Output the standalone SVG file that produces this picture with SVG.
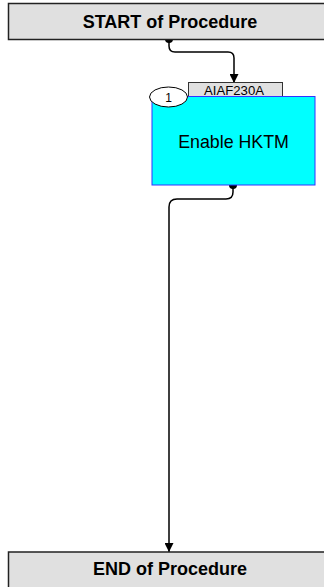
<svg xmlns="http://www.w3.org/2000/svg" width="324" height="587" viewBox="0 0 324 587">
<defs>
<style>
.term{fill:#e0e0e0;stroke:#222;stroke-width:1.5}
.termtxt{font-family:"Liberation Sans",Arial,sans-serif;font-weight:bold;font-size:18px;fill:#000;text-anchor:middle}
.conn{fill:none;stroke:#000;stroke-width:1.5}
.dot{fill:#000}
.lbl{fill:#e0e0e0;stroke:#333;stroke-width:1}
.txt{font-family:"Liberation Sans",Arial,sans-serif;fill:#000;text-anchor:middle}
</style>
<marker id="arr" viewBox="0 0 10 10" refX="10" refY="5" markerWidth="9" markerHeight="9" markerUnits="userSpaceOnUse" orient="auto">
<path d="M0,0 L10,5 L0,10 z" fill="#000"/>
</marker>
</defs>
<rect width="324" height="587" fill="#fff"/>
<g id="connectors">
<path class="conn" d="M169,39 V46 Q169,52 175,52 H228 Q234,52 234,58 V83" marker-end="url(#arr)"/>
<circle class="dot" cx="169" cy="39" r="4"/>
<path class="conn" d="M233,185 V192 Q233,199 226,199 H177 Q169,199 169,207 V552" marker-end="url(#arr)"/>
<circle class="dot" cx="233" cy="185" r="4"/>
</g>
<g id="start">
<rect class="term" x="8.5" y="3.5" width="320" height="36"/>
<text class="termtxt" x="170" y="28">START of Procedure</text>
</g>
<g id="step1">
<rect class="lbl" x="188.5" y="82.5" width="94" height="14"/>
<text class="txt" x="234" y="94.5" font-size="12.5" textLength="60" lengthAdjust="spacingAndGlyphs">AIAF230A</text>
<rect x="152" y="96.5" width="163" height="88.5" fill="#00ffff" stroke="#3333ff" stroke-width="1"/>
<text class="txt" x="233.5" y="147.5" font-size="17.8">Enable HKTM</text>
<ellipse cx="168.5" cy="97" rx="19" ry="10" fill="#fff" stroke="#000" stroke-width="1"/>
<text class="txt" x="168.5" y="101.5" font-size="12">1</text>
</g>
<g id="end">
<rect class="term" x="8.5" y="552" width="320" height="40"/>
<text class="termtxt" x="170" y="575">END of Procedure</text>
</g>
</svg>
